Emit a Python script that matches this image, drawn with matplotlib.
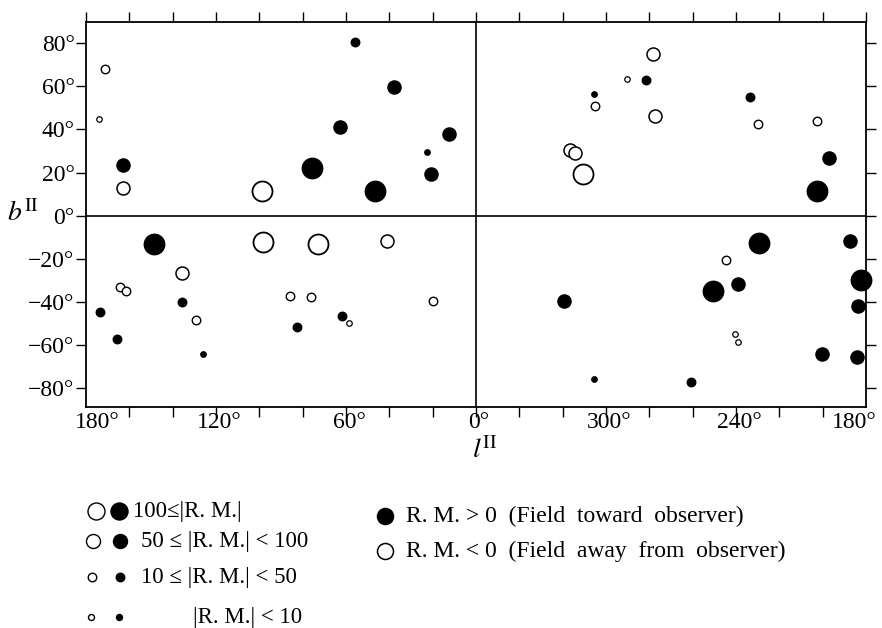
import numpy as np
import matplotlib
matplotlib.use('Agg')
import matplotlib.pyplot as plt
from matplotlib.lines import Line2D

plt.rcParams['font.family'] = ['Liberation Serif', 'DejaVu Serif']
plt.rcParams['mathtext.fontset'] = 'stix'

# galactic longitude / latitude of the sources (degrees)
lon = [171, 174, 163, 163, 99, 56, 38, 63, 75.5, 46.5, 22.5, 21, 12.5,
       148.5, 98.5, 73, 41, 135.5, 164.5, 161.5, 173.5, 165.5, 135.5, 129, 126,
       86, 76, 82.5, 62, 58.5, 20,
       278.5, 290.5, 281.5, 305.5, 305, 277.5, 316.5, 314.5, 310.5, 233.5, 230,
       202.5, 197, 202.5,
       229.5, 187.5, 244.5, 239, 250.5, 182.5, 183.5, 184, 200.5, 240.5, 239,
       319.5, 305.5, 261]
lat = [68, 45, 23.5, 13, 11.5, 80.5, 59.5, 41, 22, 11.5, 29.5, 19.5, 38,
       -13, -12, -13, -11.5, -26.5, -33, -35, -44.5, -57, -40, -48.5, -64,
       -37, -37.5, -51.5, -46.5, -49.5, -39.5,
       75, 63.5, 63, 56.5, 51, 46, 30.5, 29, 19.5, 55, 42.5,
       44, 26.5, 11.5,
       -12.5, -11.5, -20.5, -31.5, -35, -30, -42, -65.5, -64, -55, -58.5,
       -39.5, -75.5, -77]
# sign of rotation measure: +1 field toward observer, -1 away
rm_sign = [-1, -1, 1, -1, -1, 1, 1, 1, 1, 1, 1, 1, 1,
           1, -1, -1, -1, -1, -1, -1, 1, 1, 1, -1, 1,
           -1, -1, 1, 1, -1, -1,
           -1, -1, 1, 1, -1, -1, -1, -1, -1, 1, -1,
           -1, 1, 1,
           1, 1, -1, 1, 1, 1, 1, 1, 1, -1, -1,
           1, 1, 1]
# |R.M.| class: 0 = >=100, 1 = 50-100, 2 = 10-50, 3 = <10
rm_class = [2, 3, 1, 1, 0, 2, 1, 1, 0, 0, 3, 1, 1,
            0, 0, 0, 1, 1, 2, 2, 2, 2, 2, 2, 3,
            2, 2, 2, 2, 3, 2,
            1, 3, 2, 3, 2, 1, 1, 1, 0, 2, 2,
            2, 1, 0,
            0, 1, 2, 1, 0, 0, 1, 1, 1, 3, 3,
            1, 3, 2]

class_labels = ['100\u2264|R. M.|', '50 \u2264 |R. M.| < 100', '10 \u2264 |R. M.| < 50', '|R. M.| < 10']
sign_labels = ['R. M. > 0  (Field  toward  observer)', 'R. M. < 0  (Field  away  from  observer)']

lon_ticks = [180, 120, 60, 0, -60, -120, -180]
lon_ticklabels = ['180\u00b0', '120\u00b0', '60\u00b0', '0\u00b0', '300\u00b0', '240\u00b0', '180\u00b0']
lat_ticks = [80, 60, 40, 20, 0, -20, -40, -60, -80]

W, H = 882, 628
px = 0.72  # points per pixel at dpi 100
diam = [20, 13, 8.5, 5.5]      # marker diameters in pixels per class
edge = [1.3, 1.1, 1.0, 0.9]

fig = plt.figure(figsize=(W / 100, H / 100), dpi=100)
ax = fig.add_axes([86 / W, 1 - 407 / H, 780 / W, 385 / H])

x = np.array([l if l <= 180 else l - 360 for l in lon])
y = np.array(lat)
s = np.array(rm_sign)
c = np.array(rm_class)

for k in range(4):
    for sg in (1, -1):
        m = (c == k) & (s == sg)
        if not m.any():
            continue
        ax.plot(x[m], y[m], 'o', ls='none', ms=diam[k] * px,
                mfc='black' if sg > 0 else 'white', mec='black',
                mew=edge[k], zorder=3, clip_on=False)

ax.axhline(0, color='black', lw=1.2, zorder=1)
ax.axvline(0, color='black', lw=1.2, zorder=1)

ax.set_xlim(180, -180)
ax.set_ylim(-88.6, 89.7)

ax.set_xticks(np.arange(-180, 181, 20))
ax.set_xticklabels(['' for _ in range(19)])
ticks = ax.xaxis.get_major_ticks()
for t in (ticks[0], ticks[-1]):
    t.tick1line.set_visible(False)
    t.tick2line.set_visible(False)
for xv, lab in zip(lon_ticks, lon_ticklabels):
    dx = 11 if xv == 180 else (-12 if xv == -180 else 3)
    ax.annotate(lab, xy=(xv, 0), xycoords=('data', 'axes fraction'),
                xytext=(dx, -15), textcoords='offset pixels',
                ha='center', va='center', fontsize=17)

ax.set_yticks(lat_ticks)
ax.set_yticklabels([('\u2212' + str(-v) if v < 0 else str(v)) + '\u00b0' for v in lat_ticks],
                   fontsize=17)

ax.tick_params(direction='out', length=7.2, width=1.0, top=True, right=True,
               labelright=False, labeltop=False, pad=1)
for sp in ax.spines.values():
    sp.set_linewidth(1.3)

fig.text(23 / W, 1 - 214 / H, r'$b^{\rm II}$', ha='center', va='center', fontsize=20)
ax.annotate(r'$l^{\rm II}$', xy=(-4, 0), xycoords=('data', 'axes fraction'),
            xytext=(0, -44), textcoords='offset pixels',
            ha='center', va='center', fontsize=20)

# legend: size classes
rows_y = [511, 541, 577, 617]
open_x = [96, 93, 92, 91]
fill_x = [119, 120, 120, 119]
text_x = [133, 141, 141, 193]
leg_diam = [17, 14, 8.5, 6]
for k in range(4):
    for xx, fc in ((open_x[k], 'white'), (fill_x[k], 'black')):
        fig.add_artist(Line2D([xx / W], [1 - rows_y[k] / H], marker='o', ls='none',
                              ms=leg_diam[k] * px, mfc=fc, mec='black', mew=1.0,
                              transform=fig.transFigure))
    fig.text(text_x[k] / W, 1 - rows_y[k] / H, class_labels[k], ha='left', va='center',
             fontsize=16.5)

# legend: sign
sy = [516, 551]
for j, fc in enumerate(('black', 'white')):
    fig.add_artist(Line2D([385 / W], [1 - sy[j] / H], marker='o', ls='none',
                          ms=16 * px, mfc=fc, mec='black', mew=1.1,
                          transform=fig.transFigure))
    fig.text(406 / W, 1 - sy[j] / H, sign_labels[j], ha='left', va='center', fontsize=17)

fig.savefig('out.png', dpi=100)
